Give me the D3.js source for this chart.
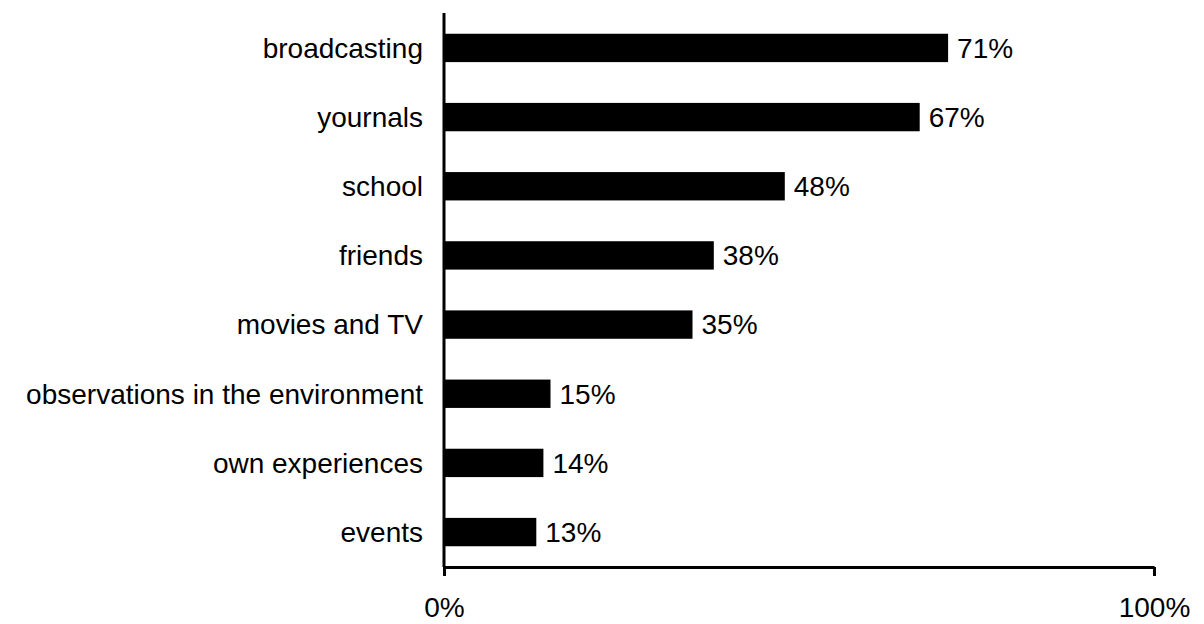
<!DOCTYPE html>
<html>
<head>
<meta charset="utf-8">
<script src="https://cdn.jsdelivr.net/npm/d3@7"></script>
<style>
  html, body { margin: 0; padding: 0; background: #fff; }
  svg text { font-family: "Liberation Sans", Arial, sans-serif; fill: #000; }
</style>
</head>
<body>
<svg id="chart" width="1204" height="624"></svg>
<script>
// Sources of information, share of respondents
const categories = [
  "broadcasting",
  "yournals",
  "school",
  "friends",
  "movies and TV",
  "observations in the environment",
  "own experiences",
  "events"
];
const shares = [71, 67, 48, 38, 35, 15, 14, 13];
const tickValues = [0, 100];

const svg = d3.select("#chart");
const plotTop = 13, plotBottom = 567;
const fontSize = 28;

const x = d3.scaleLinear().domain([0, 100]).range([444, 1154]);
const y = d3.scaleBand()
  .domain(categories)
  .range([plotTop, plotBottom])
  .paddingInner(0.59)
  .paddingOuter(0.3);

const data = categories.map((c, i) => ({ c, v: shares[i] }));

// bars
svg.append("g")
  .selectAll("rect")
  .data(data)
  .join("rect")
  .attr("x", x(0))
  .attr("y", d => y(d.c))
  .attr("width", d => x(d.v) - x(0))
  .attr("height", y.bandwidth())
  .attr("fill", "#000");

// value labels
svg.append("g")
  .selectAll("text")
  .data(data)
  .join("text")
  .attr("x", d => x(d.v) + 9)
  .attr("y", d => y(d.c) + y.bandwidth() / 2)
  .attr("dy", "0.35em")
  .attr("font-size", fontSize)
  .text(d => d.v + "%");

// category axis
const yAxis = svg.append("g")
  .attr("transform", `translate(${x(0)},0)`)
  .call(d3.axisLeft(y).tickSize(0).tickPadding(21));
yAxis.select(".domain").attr("stroke", "#000").attr("stroke-width", 3)
  .attr("d", `M0,${plotTop}V${plotBottom}`);
yAxis.selectAll("text")
  .attr("font-size", fontSize)
  .attr("font-family", "Liberation Sans, Arial, sans-serif")
  .attr("dy", "0.35em");

// value axis
const xAxis = svg.append("g")
  .attr("transform", `translate(0,${plotBottom})`)
  .call(d3.axisBottom(x).tickValues(tickValues).tickFormat(d => d + "%")
    .tickSize(9).tickSizeOuter(0).tickPadding(21));
xAxis.select(".domain").attr("stroke", "#000").attr("stroke-width", 3);
xAxis.selectAll(".tick line").attr("stroke", "#000").attr("stroke-width", 3);
xAxis.selectAll("text")
  .attr("font-size", fontSize)
  .attr("font-family", "Liberation Sans, Arial, sans-serif");
</script>
</body>
</html>
